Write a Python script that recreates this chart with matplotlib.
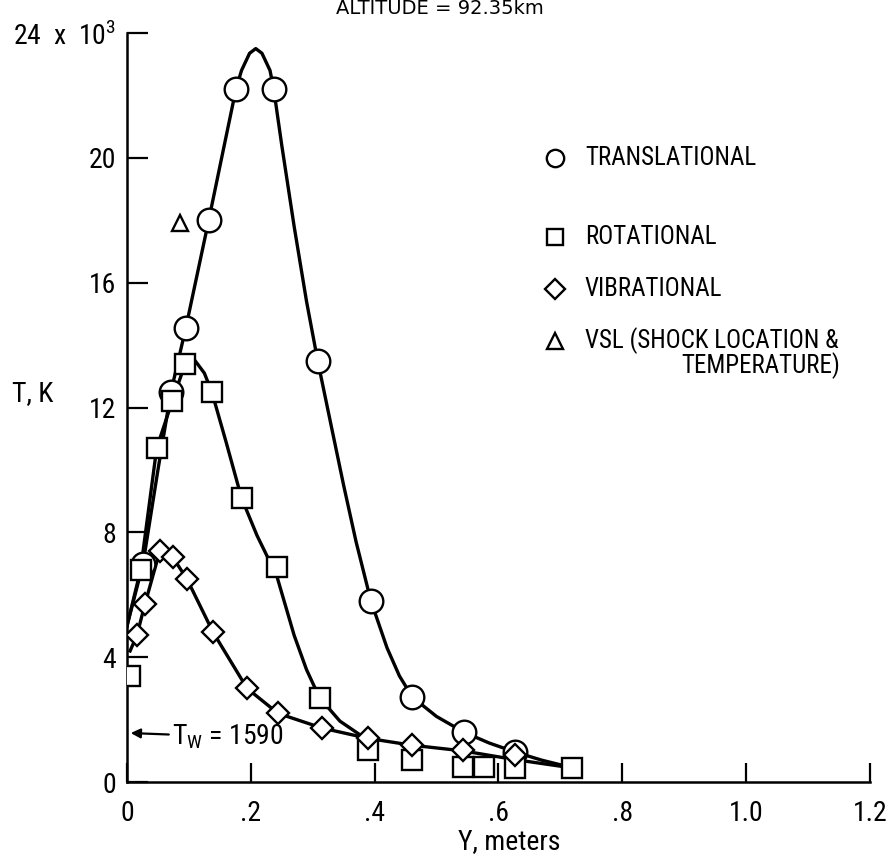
import numpy as np
import matplotlib
matplotlib.use("Agg")
import matplotlib.pyplot as plt
from matplotlib.lines import Line2D

# marker values (Y in metres, T in 10^3 K)
trans_y = [0.026, 0.071, 0.095, 0.132, 0.176, 0.237, 0.308, 0.394, 0.461, 0.544, 0.627]
trans_t = [7.0, 12.5, 14.55, 18.0, 22.2, 22.2, 13.5, 5.8, 2.72, 1.6, 0.96]

rot_y = [0.005, 0.022, 0.048, 0.073, 0.094, 0.137, 0.185, 0.242, 0.311, 0.389, 0.46, 0.542, 0.577, 0.626, 0.719]
rot_t = [3.4, 6.8, 10.7, 12.2, 13.4, 12.5, 9.1, 6.9, 2.7, 1.03, 0.7, 0.48, 0.48, 0.45, 0.45]

vib_y = [0.016, 0.029, 0.053, 0.074, 0.097, 0.139, 0.194, 0.244, 0.315, 0.389, 0.46, 0.542, 0.626]
vib_t = [4.7, 5.7, 7.4, 7.2, 6.5, 4.8, 3.0, 2.2, 1.73, 1.4, 1.18, 1.03, 0.87]

vsl_y = [0.085]
vsl_t = [17.9]

# faired curves
trans_curve_y = [0.0, 0.026, 0.05, 0.071, 0.095, 0.132, 0.155, 0.176, 0.185, 0.198, 0.208,
                 0.218, 0.231, 0.237, 0.25, 0.27, 0.29, 0.308, 0.33, 0.35, 0.37, 0.394,
                 0.42, 0.44, 0.461, 0.50, 0.544, 0.585, 0.627, 0.67, 0.721]
trans_curve_t = [5.0, 7.0, 10.0, 12.5, 14.55, 18.0, 20.2, 22.2, 22.8, 23.35, 23.5,
                 23.35, 22.8, 22.2, 20.4, 17.8, 15.4, 13.5, 11.4, 9.5, 7.7, 5.8,
                 4.3, 3.4, 2.72, 2.1, 1.6, 1.25, 0.96, 0.7, 0.45]

rot_curve_y = [0.0, 0.022, 0.048, 0.073, 0.094, 0.11, 0.125, 0.137, 0.16, 0.185, 0.21,
               0.242, 0.27, 0.29, 0.311, 0.344, 0.381]
rot_curve_t = [5.0, 6.8, 10.7, 12.2, 13.4, 13.5, 13.1, 12.5, 10.9, 9.1, 7.9,
               6.6, 4.7, 3.6, 2.7, 1.95, 1.45]

vib_curve_y = [0.005, 0.016, 0.029, 0.053, 0.062, 0.074, 0.097, 0.139, 0.194, 0.244, 0.315,
               0.389, 0.46, 0.542, 0.626, 0.72]
vib_curve_t = [4.2, 4.7, 5.7, 7.4, 7.45, 7.2, 6.5, 4.8, 3.0, 2.2, 1.73,
               1.4, 1.18, 1.0, 0.72, 0.45]

xticks = [0, 0.2, 0.4, 0.6, 0.8, 1.0, 1.2]
xtick_labels = ['0', '.2', '.4', '.6', '.8', '1.0', '1.2']
yticks = [0, 4, 8, 12, 16, 20, 24]
ytick_labels = ['0', '4', '8', '12', '16', '20', r'24  x  10$^3$']

NARROW = ['Roboto Condensed', 'DejaVu Sans']
plt.rcParams['mathtext.fontset'] = 'custom'
plt.rcParams['mathtext.rm'] = 'Roboto Condensed'

fig = plt.figure(figsize=(8.93, 8.59), dpi=100)
ax = fig.add_axes([0.1422, 0.0896, 0.832, 0.872])

lw = 2.4
ax.plot(trans_curve_y, trans_curve_t, color='black', lw=lw, zorder=2)
ax.plot(rot_curve_y, rot_curve_t, color='black', lw=lw, zorder=2)
ax.plot(vib_curve_y, vib_curve_t, color='black', lw=lw, zorder=2)

mk = dict(linestyle='none', markerfacecolor='white', markeredgecolor='black', markeredgewidth=1.7)
ax.plot(trans_y, trans_t, marker='o', markersize=17, zorder=3, **mk)
ax.plot(rot_y, rot_t, marker='s', markersize=14.5, zorder=4, **mk)
ax.plot(vib_y, vib_t, marker='D', markersize=11.5, zorder=5, **mk)
ax.plot(vsl_y, vsl_t, marker='^', markersize=12, zorder=5, **mk)

ax.set_xlim(0, 1.2)
ax.set_ylim(0, 24)
for s in ['top', 'right']:
    ax.spines[s].set_visible(False)
for s in ['left', 'bottom']:
    ax.spines[s].set_linewidth(1.8)

ax.set_xticks(xticks)
ax.set_xticklabels(xtick_labels, family=NARROW, fontstretch='condensed', fontsize=20)
ax.set_yticks(yticks)
ax.set_yticklabels(ytick_labels, family=NARROW, fontstretch='condensed', fontsize=20)
ax.tick_params(axis='x', direction='in', length=14, width=1.6, pad=13)
ax.tick_params(axis='y', direction='in', length=15, width=1.6, pad=8)

fig.text(0.013, 0.542, 'T, K', family=NARROW, fontstretch='condensed', fontsize=20,
         ha='left', va='center')
fig.text(0.570, 0.020, 'Y, meters', family=NARROW, fontstretch='condensed', fontsize=20,
         ha='center', va='center')
fig.text(0.493, 0.99, 'ALTITUDE = 92.35km', fontsize=14, ha='center', va='center')

ax.annotate(r'T$_\mathrm{W}$ = 1590', xy=(0.006, 1.57), xytext=(0.072, 1.45),
            family=NARROW, fontstretch='condensed', fontsize=20, ha='left', va='center',
            arrowprops=dict(arrowstyle='-|>', color='black', lw=1.6, mutation_scale=14,
                            shrinkA=0, shrinkB=0))

# legend drawn by hand to follow the original spacing
leg_rows = [(0.816, 'o', 12.5, 'TRANSLATIONAL'),
            (0.724, 's', 12, 'ROTATIONAL'),
            (0.664, 'D', 10.5, 'VIBRATIONAL'),
            (0.603, '^', 12, 'VSL (SHOCK LOCATION &')]
for yy, m, ms, label in leg_rows:
    fig.add_artist(Line2D([0.622], [yy], marker=m, markersize=ms, markerfacecolor='white',
                          markeredgecolor='black', markeredgewidth=1.7, linestyle='none'))
    fig.text(0.655, yy, label, family=NARROW, fontstretch='condensed', fontsize=18,
             ha='left', va='center')
fig.text(0.852, 0.574, 'TEMPERATURE)', family=NARROW, fontstretch='condensed', fontsize=18,
         ha='center', va='center')

fig.savefig('out.png', dpi=100)
